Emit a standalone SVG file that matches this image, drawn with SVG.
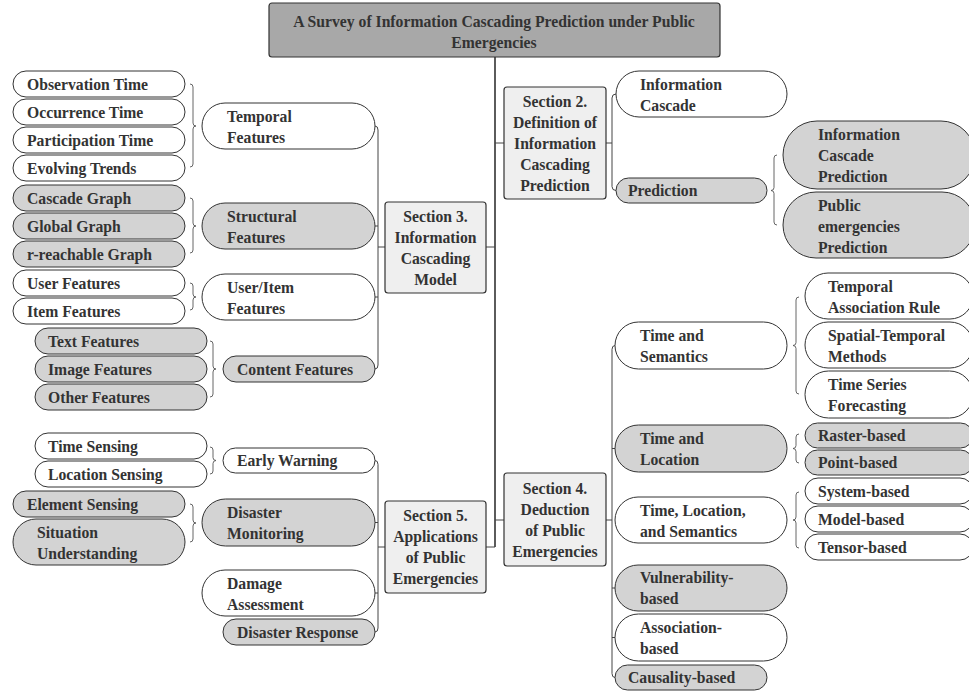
<svg xmlns="http://www.w3.org/2000/svg" width="969" height="692" viewBox="0 0 969 692">
<style>
.w{fill:#ffffff;stroke:#333;stroke-width:1}
.g{fill:#d3d3d3;stroke:#333;stroke-width:1}
.sec{fill:#efefef;stroke:#333;stroke-width:1.2}
.ttl{fill:#a8a8a8;stroke:#333;stroke-width:1.2}
text{font-family:"Liberation Serif","Times New Roman",serif;font-weight:bold;font-size:15.7px;fill:#333}
.c{text-anchor:middle}
.ln{fill:none;stroke:#444;stroke-width:1}
.tr{fill:none;stroke:#333;stroke-width:1.6}
.br{fill:none;stroke:#555;stroke-width:0.9}
</style>
<rect width="969" height="692" fill="#ffffff"/>
<g id="connectors">
<path class="tr" d="M495,57 V547"/>
<path class="ln" d="M495,143 H504 M486,247 H495 M495,520 H504 M486,547 H495"/>
<path class="ln" d="M606,143 H612 M616,94 Q612,94 612,98 V186.5 Q612,190.5 616,190.5"/>
<path class="ln" d="M385,247 H378 M375,126 Q378,126 378,130 V365 Q378,369 375,369 M375,226 H378 M375,297 H378"/>
<path class="ln" d="M385,547 H378 M375,460.5 Q378,460.5 378,464.5 V628 Q378,632 375,632 M375,522.5 H378 M375,593 H378"/>
<path class="ln" d="M606,520 H612 M615,345.5 Q612,345.5 612,349.5 V673.5 Q612,677.5 615,677.5 M612,448.5 H615 M612,588 H615 M612,637.5 H615"/>
<path class="br" d="M190,84 Q193,84 193,87 V123 Q193,126 196,126 Q193,126 193,129 V164 Q193,167 190,167"/>
<path class="br" d="M190,198 Q193,198 193,201 V223 Q193,226 196,226 Q193,226 193,229 V250 Q193,253 190,253"/>
<path class="br" d="M190,283 Q193,283 193,286 V294 Q193,297 196,297 Q193,297 193,300 V307 Q193,310 190,310"/>
<path class="br" d="M210,341 Q213,341 213,344 V366 Q213,369 216,369 Q213,369 213,372 V394 Q213,397 210,397"/>
<path class="br" d="M210,447 Q213,447 213,450 V457.5 Q213,460.5 216,460.5 Q213,460.5 213,463.5 V471 Q213,474 210,474"/>
<path class="br" d="M190,504 Q193,504 193,507 V520 Q193,523 196,523 Q193,523 193,526 V539 Q193,542 190,542"/>
<path class="br" d="M777,155 Q774,155 774,158 V187.5 Q774,190.5 771,190.5 Q774,190.5 774,193.5 V222 Q774,225 777,225"/>
<path class="br" d="M799,297 Q796,297 796,300 V342.5 Q796,345.5 793,345.5 Q796,345.5 796,348.5 V391 Q796,394 799,394"/>
<path class="br" d="M799,434 Q796,434 796,437 V445.5 Q796,448.5 793,448.5 Q796,448.5 796,451.5 V460 Q796,463 799,463"/>
<path class="br" d="M799,492 Q796,492 796,495 V517 Q796,520 793,520 Q796,520 796,523 V545 Q796,548 799,548"/>
</g>
<g id="title"><rect class="ttl" x="269" y="3" width="451" height="54" rx="3"/>
<text class="c" x="494" y="26.5">A Survey of Information Cascading Prediction under Public</text>
<text class="c" x="494" y="47.5">Emergencies</text></g>
<g id="sec2"><rect class="sec" x="504" y="87" width="102" height="112" rx="3"/>
<text class="c" x="555" y="106.5">Section 2.</text><text class="c" x="555" y="127.5">Definition of</text><text class="c" x="555" y="148.5">Information</text><text class="c" x="555" y="169.5">Cascading</text><text class="c" x="555" y="190.5">Prediction</text></g>
<g id="sec3"><rect class="sec" x="385" y="202" width="101" height="91" rx="3"/>
<text class="c" x="435.5" y="221.5">Section 3.</text><text class="c" x="435.5" y="242.5">Information</text><text class="c" x="435.5" y="263.5">Cascading</text><text class="c" x="435.5" y="284.5">Model</text></g>
<g id="sec4"><rect class="sec" x="504" y="473" width="102" height="93" rx="3"/>
<text class="c" x="555" y="493.5">Section 4.</text><text class="c" x="555" y="514.5">Deduction</text><text class="c" x="555" y="535.5">of Public</text><text class="c" x="555" y="556.5">Emergencies</text></g>
<g id="sec5"><rect class="sec" x="385" y="501" width="101" height="92" rx="3"/>
<text class="c" x="435.5" y="521">Section 5.</text><text class="c" x="435.5" y="542">Applications</text><text class="c" x="435.5" y="563">of Public</text><text class="c" x="435.5" y="584">Emergencies</text></g>

<g id="observation-time"><rect class="w" x="13" y="71" width="172" height="26" rx="13"/><text x="27" y="89.5">Observation Time</text></g>
<g id="occurrence-time"><rect class="w" x="13" y="99" width="172" height="26" rx="13"/><text x="27" y="117.5">Occurrence Time</text></g>
<g id="participation-time"><rect class="w" x="13" y="127" width="172" height="26" rx="13"/><text x="27" y="145.5">Participation Time</text></g>
<g id="evolving-trends"><rect class="w" x="13" y="155" width="172" height="26" rx="13"/><text x="27" y="173.5">Evolving Trends</text></g>
<g id="cascade-graph"><rect class="g" x="13" y="185" width="172" height="26" rx="13"/><text x="27" y="203.5">Cascade Graph</text></g>
<g id="global-graph"><rect class="g" x="13" y="213" width="172" height="26" rx="13"/><text x="27" y="231.5">Global Graph</text></g>
<g id="r-reachable-graph"><rect class="g" x="13" y="241" width="172" height="26" rx="13"/><text x="27" y="259.5">r-reachable Graph</text></g>
<g id="user-features"><rect class="w" x="13" y="270" width="172" height="26" rx="13"/><text x="27" y="288.5">User Features</text></g>
<g id="item-features"><rect class="w" x="13" y="298" width="172" height="26" rx="13"/><text x="27" y="316.5">Item Features</text></g>
<g id="text-features"><rect class="g" x="35" y="328" width="172" height="26" rx="13"/><text x="48" y="346.5">Text Features</text></g>
<g id="image-features"><rect class="g" x="35" y="356" width="172" height="26" rx="13"/><text x="48" y="374.5">Image Features</text></g>
<g id="other-features"><rect class="g" x="35" y="384" width="172" height="26" rx="13"/><text x="48" y="402.5">Other Features</text></g>
<g id="time-sensing"><rect class="w" x="35" y="433" width="172" height="26" rx="13"/><text x="48" y="451.5">Time Sensing</text></g>
<g id="location-sensing"><rect class="w" x="35" y="461" width="172" height="26" rx="13"/><text x="48" y="479.5">Location Sensing</text></g>
<g id="element-sensing"><rect class="g" x="13" y="491" width="172" height="26" rx="13"/><text x="27" y="509.5">Element Sensing</text></g>
<g id="situation-understanding"><rect class="g" x="13" y="519" width="172" height="46" rx="23"/><text x="37" y="537.5">Situation</text><text x="37" y="558.5">Understanding</text></g>

<g id="temporal-features"><rect class="w" x="202" y="103" width="173" height="46" rx="23"/><text x="227" y="121.5">Temporal</text><text x="227" y="142.5">Features</text></g>
<g id="structural-features"><rect class="g" x="202" y="203" width="173" height="46" rx="23"/><text x="227" y="221.5">Structural</text><text x="227" y="242.5">Features</text></g>
<g id="user-item-features"><rect class="w" x="202" y="274" width="173" height="46" rx="23"/><text x="227" y="292.5">User/Item</text><text x="227" y="313.5">Features</text></g>
<g id="content-features"><rect class="g" x="223" y="356" width="152" height="26" rx="13"/><text x="237" y="374.5">Content Features</text></g>
<g id="early-warning"><rect class="w" x="223" y="448" width="152" height="25" rx="12.5"/><text x="237" y="466">Early Warning</text></g>
<g id="disaster-monitoring"><rect class="g" x="202" y="499" width="173" height="47" rx="23.5"/><text x="227" y="517.5">Disaster</text><text x="227" y="538.5">Monitoring</text></g>
<g id="damage-assessment"><rect class="w" x="202" y="570" width="173" height="46" rx="23"/><text x="227" y="588.5">Damage</text><text x="227" y="609.5">Assessment</text></g>
<g id="disaster-response"><rect class="g" x="223" y="619" width="152" height="26" rx="13"/><text x="237" y="637.5">Disaster Response</text></g>

<g id="information-cascade"><rect class="w" x="616" y="71" width="171" height="46" rx="23"/><text x="640" y="89.5">Information</text><text x="640" y="110.5">Cascade</text></g>
<g id="prediction"><rect class="g" x="616" y="178" width="151" height="25" rx="12.5"/><text x="628" y="196">Prediction</text></g>
<g id="information-cascade-prediction"><rect class="g" x="783" y="121" width="192" height="68" rx="34"/><text x="818" y="139.5">Information</text><text x="818" y="160.5">Cascade</text><text x="818" y="181.5">Prediction</text></g>
<g id="public-emergencies-prediction"><rect class="g" x="783" y="192" width="192" height="66" rx="33"/><text x="818" y="210.5">Public</text><text x="818" y="231.5">emergencies</text><text x="818" y="252.5">Prediction</text></g>

<g id="time-and-semantics"><rect class="w" x="615" y="322" width="172" height="47" rx="23.5"/><text x="640" y="340.5">Time and</text><text x="640" y="361.5">Semantics</text></g>
<g id="time-and-location"><rect class="g" x="615" y="425" width="172" height="47" rx="23.5"/><text x="640" y="443.5">Time and</text><text x="640" y="464.5">Location</text></g>
<g id="time-location-semantics"><rect class="w" x="615" y="497" width="172" height="46" rx="23"/><text x="640" y="515.5">Time, Location,</text><text x="640" y="536.5">and Semantics</text></g>
<g id="vulnerability-based"><rect class="g" x="615" y="565" width="172" height="46" rx="23"/><text x="640" y="583">Vulnerability-</text><text x="640" y="604">based</text></g>
<g id="association-based"><rect class="w" x="615" y="614" width="172" height="47" rx="23.5"/><text x="640" y="633">Association-</text><text x="640" y="654">based</text></g>
<g id="causality-based"><rect class="g" x="615" y="665" width="152" height="25" rx="12.5"/><text x="628" y="683">Causality-based</text></g>

<g id="temporal-association-rule"><rect class="w" x="805" y="273" width="168" height="46" rx="23"/><text x="828" y="291.5">Temporal</text><text x="828" y="312.5">Association Rule</text></g>
<g id="spatial-temporal-methods"><rect class="w" x="805" y="322" width="168" height="46" rx="23"/><text x="828" y="340.5">Spatial-Temporal</text><text x="828" y="361.5">Methods</text></g>
<g id="time-series-forecasting"><rect class="w" x="805" y="371" width="168" height="47" rx="23.5"/><text x="828" y="389.5">Time Series</text><text x="828" y="410.5">Forecasting</text></g>
<g id="raster-based"><rect class="g" x="805" y="423" width="168" height="25" rx="12.5"/><text x="818" y="441">Raster-based</text></g>
<g id="point-based"><rect class="g" x="805" y="450" width="168" height="25" rx="12.5"/><text x="818" y="468">Point-based</text></g>
<g id="system-based"><rect class="w" x="805" y="478" width="168" height="26" rx="13"/><text x="818" y="496.5">System-based</text></g>
<g id="model-based"><rect class="w" x="805" y="506" width="168" height="26" rx="13"/><text x="818" y="524.5">Model-based</text></g>
<g id="tensor-based"><rect class="w" x="805" y="534" width="168" height="26" rx="13"/><text x="818" y="552.5">Tensor-based</text></g>
</svg>
